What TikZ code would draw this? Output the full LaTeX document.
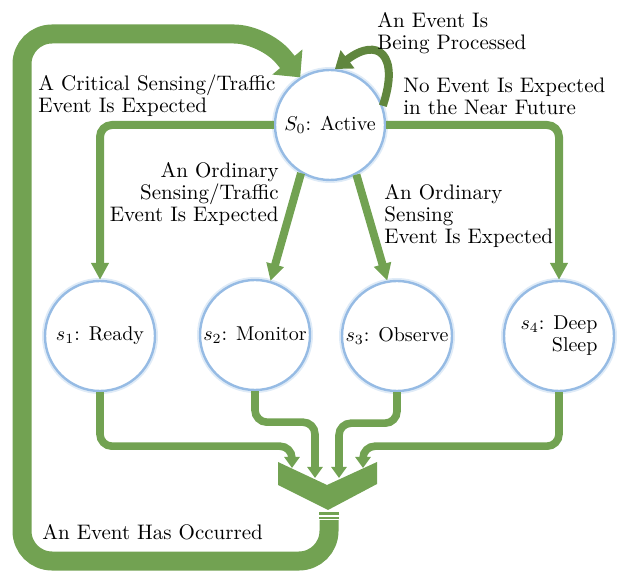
\documentclass[tikz,border=0pt]{standalone}
\usetikzlibrary{arrows.meta}
\definecolor{leaf}{RGB}{114,162,82}
\definecolor{leafdark}{RGB}{96,134,62}
\definecolor{ring}{RGB}{150,187,228}
\tikzset{
  state/.style={circle,draw=ring,line width=1.2pt,fill=white,minimum size=55pt,inner sep=0pt,
    align=center,font=\fontsize{10}{11}\selectfont,preaction={draw=ring!30,line width=3pt}},
  note/.style={inner sep=0pt,font=\fontsize{10.5}{11}\selectfont},
  flow/.style={draw=leaf,line width=4pt,rounded corners=6pt,-{Triangle[length=8.5pt,width=8.5pt]}},
  feed/.style={draw=leaf,line width=3.8pt,rounded corners=6pt,-{Triangle[length=5.5pt,width=7.5pt]}},
}
\begin{document}
\begin{tikzpicture}[x=0.5pt,y=-0.5pt]
    \useasboundingbox (0,0) rectangle (621,571);
    % 状态
    \node[state] (s0) at (330,125) {$S_0$: Active};
    \node[state] (s1) at (100,336) {$s_1$: Ready};
    \node[state] (s2) at (255,335) {$s_2$: Monitor};
    \node[state] (s3) at (397,336) {$s_3$: Observe};
    \node[state,align=right] (s4) at (559,336) {$s_4$: Deep\\Sleep};

    % 汇合
    \fill[leaf] (278,462) -- (327,485) -- (377,462) -- (377,484) -- (328,510) -- (278,485) -- cycle;
    \fill[leaf] (319,512) rectangle (339,514.5);
    \fill[leaf] (319,516.5) rectangle (339,518.5);
    \coordinate (in1) at (292,468);
    \coordinate (in2) at (315,478);
    \coordinate (in3) at (339,478);
    \coordinate (in4) at (363,468);
    \coordinate (out) at (329,520);

    % 转移
    \draw[flow] (s0.west) -| (s1.north);
    \draw[flow] (s0.east) -| (s4.north);
    \draw[flow] (s0.-121) -- (s2.74);
    \draw[flow] (s0.-62) -- (s3.100);
    \draw[draw=leafdark,line width=4pt,-{Triangle[length=8pt,width=11pt]}]
        (s0.20) .. controls (400,55) and (378,36) .. (s0.85);
    \draw[feed] (s1.south) -- ++(0,54) -| (in1);
    \draw[feed] (s2.south) -- ++(0,31) -| (in2);
    \draw[feed] (s3.south) -- ++(0,31) -| (in3);
    \draw[feed] (s4.south) -- ++(0,54) -| (in4);
    \draw[draw=leaf,line width=9.5pt,rounded corners=15pt,-{Triangle[length=10pt,width=19pt]}]
        (out) -- (329,561) -- (22,561) -- (22,34) -- (264,34) -- (s0.122);

    % 标注
    \node[note,anchor=west,align=left] (busy) at (377,33) {An Event Is\\Being Processed};
    \node[note,anchor=west,align=left] (critical) at (38,96) {A Critical Sensing/Traffic\\Event Is Expected};
    \node[note,anchor=west,align=left] (idle) at (403,96) {No Event Is Expected\\in the Near Future};
    \node[note,anchor=east,align=right] (ordtraffic) at (279,194) {An Ordinary\\Sensing/Traffic\\Event Is Expected};
    \node[note,anchor=west,align=left] (ordsensing) at (384,216) {An Ordinary\\Sensing\\Event Is Expected};
    \node[note,anchor=west] (occurred) at (42,532) {An Event Has Occurred};
\end{tikzpicture}
\end{document}
